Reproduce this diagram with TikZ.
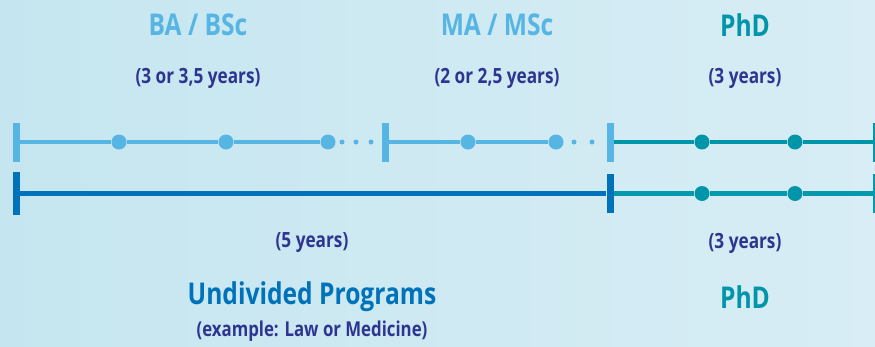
\documentclass[tikz,border=0pt]{standalone}
\usepackage{fontspec}
\setmainfont{Open Sans}[FakeStretch=0.82]
\definecolor{lb}{HTML}{56B5E3}
\definecolor{db}{HTML}{0072BA}
\definecolor{tl}{HTML}{0095A9}
\definecolor{tlb}{HTML}{0499AD}
\definecolor{navy}{HTML}{2E3590}
\definecolor{bgl}{HTML}{C5E6F0}
\definecolor{bgr}{HTML}{D8EDF5}
\begin{document}
\begin{tikzpicture}[x=1pt,y=-1pt,
  tickbar/.style={rectangle,draw=none,fill=#1,minimum width=7pt,minimum height=39pt,inner sep=0pt},
  bigdot/.style={circle,fill=#1,minimum size=15pt,inner sep=0pt},
  smalldot/.style={circle,fill=lb,minimum size=5pt,inner sep=0pt},
  title/.style={font=\bfseries\fontsize{30}{30}\selectfont,text=#1},
  sub/.style={font=\bfseries\fontsize{21}{21}\selectfont,text=navy}]
\useasboundingbox (0,0) rectangle (875,346);
\shade[left color=bgl,right color=bgr] (0,0) rectangle (875,346);
% top row
\node[tickbar=lb] (t1) at (16.5,142) {};
\node[bigdot=lb] (d1) at (119,142) {};
\node[bigdot=lb] (d2) at (226,142) {};
\node[bigdot=lb] (d3) at (328,142) {};
\node[smalldot] (s1) at (342,142) {};
\node[smalldot] (s2) at (356,142) {};
\node[smalldot] (s3) at (371,142) {};
\node[tickbar=lb] (t2) at (385,142) {};
\node[bigdot=lb] (d4) at (468,142) {};
\node[bigdot=lb] (d5) at (556,142) {};
\node[smalldot] (s4) at (574,142) {};
\node[smalldot] (s5) at (592,142) {};
\node[tickbar=lb] (t3) at (610,142) {};
\node[bigdot=tl] (p1) at (702,142) {};
\node[bigdot=tl] (p2) at (795,142) {};
\node[tickbar=tl] (t4) at (876.5,142) {};
\draw[lb,line width=4pt] (t1.east) -- (d1) -- (d2) -- (d3);
\draw[lb,line width=4pt] (t2.east) -- (d4) -- (d5);
\draw[tl,line width=4.5pt] (t3.east) -- (p1) -- (p2) -- (t4.west);
% bottom row
\node[tickbar=db,minimum height=43pt] (b1) at (16.5,193.5) {};
\node[tickbar=db] (b2) at (610,193.5) {};
\node[bigdot=tl] (q1) at (702,193.5) {};
\node[bigdot=tl] (q2) at (795,193.5) {};
\node[tickbar=tlb] (b3) at (876.5,193.5) {};
\draw[db,line width=5.5pt] (b1.east) -- (b2.west);
\draw[tlb,line width=5pt] (b2.east) -- (q1) -- (q2) -- (b3.west);
% labels
\node[title=lb] (ba) at (198,25) {BA / BSc};
\node[sub] (bay) at (198,78) {(3 or 3,5 years)};
\node[title=lb] (ma) at (497,25) {MA / MSc};
\node[sub] (may) at (497,78) {(2 or 2,5 years)};
\node[title=tl] (phd1) at (745,25) {PhD};
\node[sub] (phd1y) at (745,78) {(3 years)};
\node[sub] (uy) at (312,243) {(5 years)};
\node[sub] (phd2y) at (745,243) {(3 years)};
\node[title=db] (und) at (312,297) {Undivided Programs};
\node[sub,font=\bfseries\fontsize{20.5}{20.5}\selectfont] (ex) at (312,331) {(example: Law or Medicine)};
\node[title=tl] (phd2) at (745,297) {PhD};
\end{tikzpicture}
\end{document}
